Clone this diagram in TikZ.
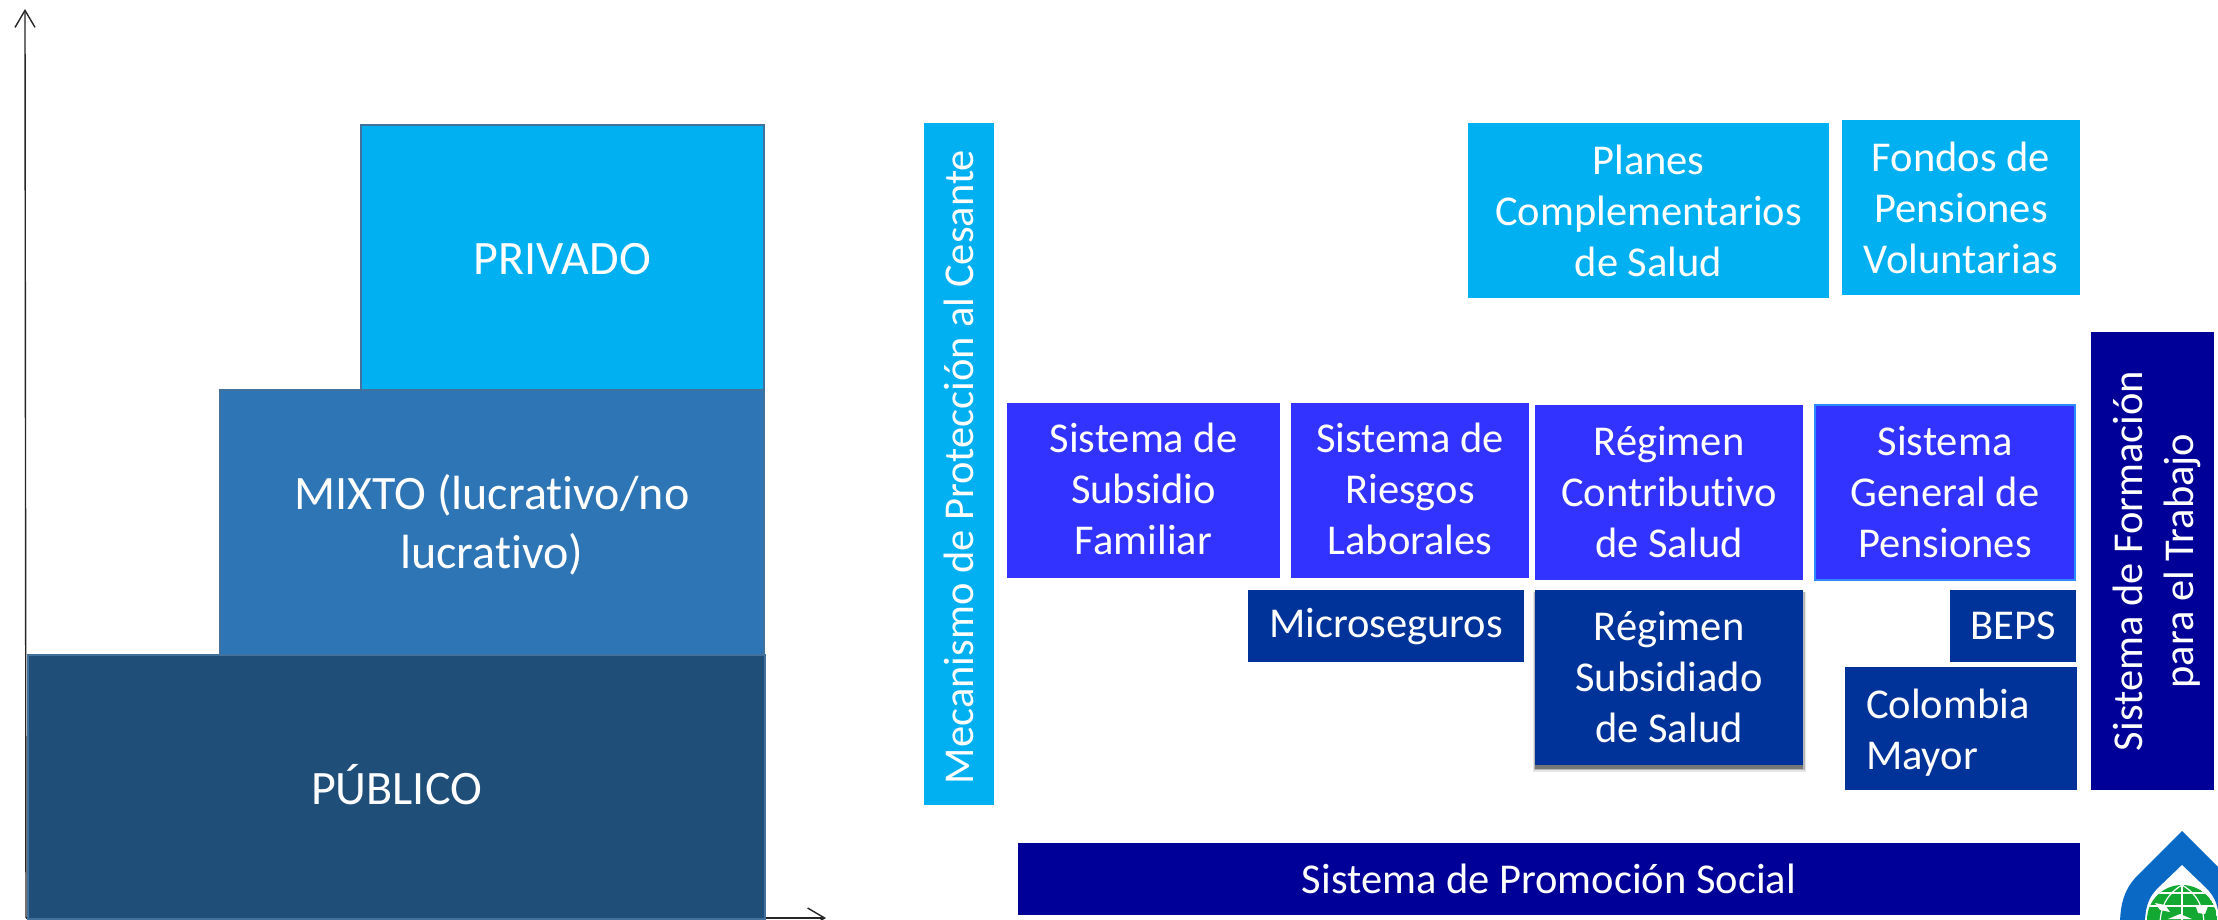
\documentclass[tikz,border=0pt]{standalone}
\usepackage{fontspec}
\setmainfont[Ligatures=NoCommon]{Carlito}
\usetikzlibrary{arrows.meta}
\definecolor{cPriv}{HTML}{00B0F0}
\definecolor{cMix}{HTML}{2E75B6}
\definecolor{cPub}{HTML}{1F4E79}
\definecolor{cEdge}{HTML}{41719C}
\definecolor{cBright}{HTML}{3333FF}
\definecolor{cDark}{HTML}{003399}
\definecolor{cNavy}{HTML}{000099}
\definecolor{cLogo}{HTML}{0A69C4}
\definecolor{cGlobe}{HTML}{12A832}
\definecolor{cPensEdge}{HTML}{2E8BFF}
\tikzset{
  box/.style={anchor=north west,inner sep=0pt,outer sep=0pt,text=white,align=center,
    font=\fontsize{42.5}{51}\selectfont},
  tier/.style={box,draw=cEdge,line width=2pt,font=\fontsize{48}{59}\selectfont},
  vbox/.style={inner sep=0pt,outer sep=0pt,text=white,align=center,rotate=90,
    font=\fontsize{42.5}{51}\selectfont},
  axisline/.style={black!85,line width=1.4pt,-{Straight Barb[length=17pt,width=20pt,line width=1.4pt]}}
}
\begin{document}
\begin{tikzpicture}[x=1pt,y=-1pt]
\useasboundingbox (0,0) rectangle (2218,919);
\fill[white] (0,0) rectangle (2218,919);
% axes
\coordinate (o) at (26,918);
\coordinate (ytop) at (25,9);
\coordinate (xend) at (826,918);
\draw[axisline] (o) -- (ytop);
\draw[axisline] (o) -- (xend);
% tiers
\node[tier,fill=cPriv,minimum width=403pt,minimum height=265pt] (priv) at (361,125) {\rule{0pt}{34pt}PRIVADO};
\node[tier,fill=cMix,minimum width=544pt,minimum height=265pt] (mix) at (220,390) {\rule{0pt}{39pt}MIXTO (lucrativo/no\\lucrativo)};
\node[tier,fill=cPub,minimum width=737pt,minimum height=264pt] (pub) at (28,655) {PÚBLICO\rule[-6pt]{0pt}{6pt}};
% side bars
\node[vbox,fill=cPriv,minimum width=682pt,minimum height=70pt] (mec) at (959,464) {Mecanismo de Protección al Cesante\hspace*{6pt}};
\node[vbox,fill=cNavy,minimum width=458pt,minimum height=123pt] (form) at (2152.5,561) {\rule{0pt}{39pt}Sistema de Formación\\para el Trabajo};
% top
\node[box,fill=cPriv,minimum width=361pt,minimum height=175pt] (planes) at (1468,123) {Planes\\Complementarios\\de Salud};
\node[box,fill=cPriv,minimum width=238pt,minimum height=175pt] (fondos) at (1842,120) {Fondos de\\Pensiones\\Voluntarias};
% middle
\node[box,fill=cBright,minimum width=273pt,minimum height=175pt] (subs) at (1007,403) {Sistema de\\Subsidio\\Familiar\rule[-3pt]{0pt}{3pt}};
\node[box,fill=cBright,minimum width=238pt,minimum height=175pt] (ries) at (1291,403) {Sistema de\\Riesgos\\Laborales\rule[-3pt]{0pt}{3pt}};
\node[box,fill=cBright,minimum width=268pt,minimum height=175pt] (cont) at (1535,405) {Régimen\\Contributivo\\de Salud};
\node[box,fill=cBright,draw=cPensEdge,line width=1.5pt,minimum width=260pt,minimum height=175pt] (pens) at (1815,405) {Sistema\\General de\\Pensiones};
% lower
\node[box,fill=cDark,minimum width=276pt,minimum height=72pt] (micro) at (1248,590) {\raisebox{-11pt}[0pt][0pt]{Microseguros}};
\fill[black,opacity=.10] (1533,592) rectangle (1805.5,772);
\fill[black,opacity=.20] (1534,592) rectangle (1804.5,770);
\fill[black,opacity=.35] (1535,592) rectangle (1803,768.5);
\node[box,fill=cDark,minimum width=268pt,minimum height=175pt] (subsi) at (1535,590) {Régimen\\Subsidiado\\de Salud};
\node[box,fill=cDark,minimum width=126pt,minimum height=72pt] (beps) at (1950,590) {BEPS};
\node[box,fill=cDark,minimum width=232pt,minimum height=123pt,align=left,text width=190pt] (colom) at (1845,667) {\rule{0pt}{37pt}Colombia\\Mayor};
\node[box,fill=cNavy,minimum width=1062pt,minimum height=72pt] (prom) at (1018,842.5) {Sistema de Promoción Social};
% logo
\fill[cLogo] (2182,831) -- (2136,877) .. controls (2124,890) and (2120,905) .. (2120,925)
  -- (2244,925) .. controls (2244,905) and (2240,890) .. (2228,877) -- cycle;
\fill[white] (2182,865) -- (2158,888) .. controls (2148,898) and (2145,908) .. (2145,925)
  -- (2219,925) .. controls (2219,908) and (2216,898) .. (2206,888) -- cycle;
\begin{scope}
\clip (2182,920) circle (35);
\fill[cGlobe] (2182,920) circle (35);
\draw[white,line width=1.2pt] (2145,893) -- (2219,893) (2145,906) -- (2219,906)
  (2182,885) -- (2182,925);
\draw[white,line width=1.2pt] (2182,885) .. controls (2165,895) and (2160,910) .. (2160,925);
\draw[white,line width=1.2pt] (2182,885) .. controls (2199,895) and (2204,910) .. (2204,925);
\fill[white] (2155,903) -- (2165,905) -- (2170,912) -- (2160,910) -- cycle;
\fill[white] (2168,919) -- (2180,914) -- (2192,919) -- cycle;
\fill[white] (2196,907) -- (2208,906) -- (2205,914) -- (2198,913) -- cycle;
\end{scope}
\end{tikzpicture}
\end{document}
